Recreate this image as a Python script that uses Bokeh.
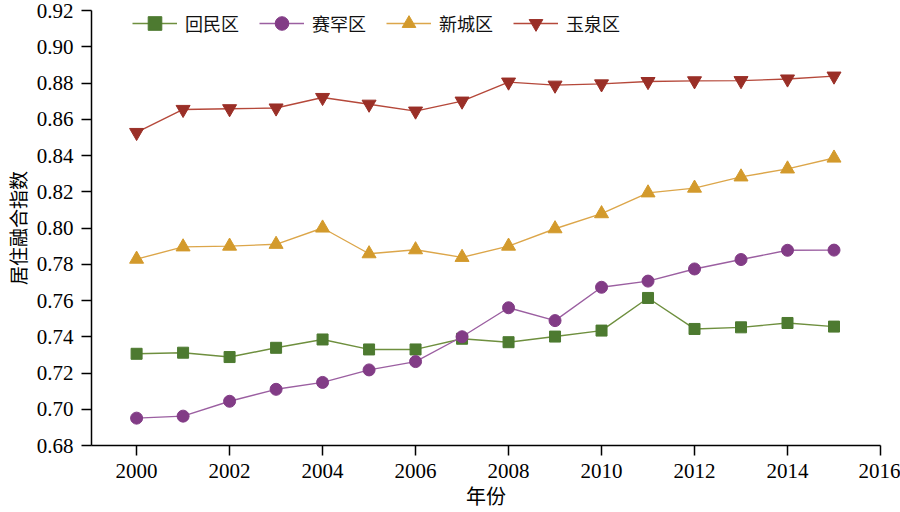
from bokeh.plotting import figure
from bokeh.models import Legend, LegendItem, Range1d, FixedTicker, PrintfTickFormatter, ColumnDataSource
from bokeh.embed import file_html
from bokeh.resources import INLINE

years = list(range(2000, 2016))
huimin = [0.7306, 0.7312, 0.7288, 0.7339, 0.7385, 0.7330, 0.7330, 0.7389,
          0.7370, 0.7401, 0.7434, 0.7614, 0.7443, 0.7452, 0.7476, 0.7456]
saihan = [0.6951, 0.6962, 0.7044, 0.7110, 0.7148, 0.7217, 0.7263, 0.7400,
          0.7560, 0.7489, 0.7673, 0.7707, 0.7774, 0.7826, 0.7877, 0.7878]
xincheng = [0.7828, 0.7896, 0.7900, 0.7910, 0.8000, 0.7858, 0.7880, 0.7838,
            0.7900, 0.7996, 0.8079, 0.8194, 0.8220, 0.8282, 0.8326, 0.8386]
yuquan = [0.8527, 0.8654, 0.8658, 0.8662, 0.8720, 0.8683, 0.8645, 0.8700,
          0.8805, 0.8788, 0.8795, 0.8808, 0.8812, 0.8813, 0.8822, 0.8838]

names = ["回民区", "赛罕区", "新城区", "玉泉区"]
series = [huimin, saihan, xincheng, yuquan]
markers = ["square", "circle", "triangle", "inverted_triangle"]
sizes = [11, 12, 14, 14]
mcolors = ["#4d7a30", "#823c86", "#d39a2c", "#9a2f27"]
lcolors = ["#6e8f3e", "#9b5fa1", "#dca64a", "#b5483a"]

y_ticks = [0.68, 0.70, 0.72, 0.74, 0.76, 0.78, 0.80, 0.82, 0.84, 0.86, 0.88, 0.90, 0.92]
x_ticks = [2000, 2002, 2004, 2006, 2008, 2010, 2012, 2014, 2016]
x_title = "年份"
y_title = "居住融合指数"

p = figure(width=900, height=512, output_backend="svg", toolbar_location=None,
           x_range=Range1d(1999.03, 2016), y_range=Range1d(0.68, 0.92),
           min_border_left=91, min_border_right=20, min_border_top=10, min_border_bottom=66)
p.outline_line_color = None
p.xgrid.visible = False
p.ygrid.visible = False
p.background_fill_color = "white"

items = []
for name, vals, mk, sz, mc, lc in zip(names, series, markers, sizes, mcolors, lcolors):
    src = ColumnDataSource(dict(x=years, y=vals))
    r1 = p.line("x", "y", source=src, line_color=lc, line_width=1.4)
    r2 = p.scatter("x", "y", source=src, marker=mk, size=sz, fill_color=mc,
                   line_color=mc, line_width=1)
    items.append(LegendItem(label=name, renderers=[r1, r2]))

legend = Legend(items=items, orientation="horizontal", location=(41, 405),
                glyph_width=45, glyph_height=34, label_standoff=8, spacing=20,
                padding=0, margin=0, border_line_color=None,
                background_fill_alpha=0, label_text_font="Noto Sans CJK SC",
                label_text_font_size="18px", label_text_color="#111111")
p.add_layout(legend, "center")

for ax in (p.xaxis[0], p.yaxis[0]):
    ax.axis_line_color = "black"
    ax.axis_line_width = 1.5
    ax.major_tick_line_color = "black"
    ax.major_tick_line_width = 1.5
    ax.major_tick_in = 0
    ax.major_tick_out = 10
    ax.minor_tick_line_color = None
    ax.major_label_text_font = "Liberation Serif"
    ax.major_label_text_font_size = "21px"
    ax.major_label_text_color = "black"
    ax.axis_label_text_font = "Noto Sans CJK SC"
    ax.axis_label_text_font_style = "normal"
    ax.axis_label_text_color = "black"

p.xaxis[0].axis_label_text_font_size = "20px"
p.yaxis[0].axis_label_text_font_size = "19px"
p.xaxis[0].ticker = FixedTicker(ticks=x_ticks)
p.yaxis[0].ticker = FixedTicker(ticks=y_ticks)
p.yaxis[0].formatter = PrintfTickFormatter(format="%.2f")
p.xaxis[0].axis_label = x_title
p.yaxis[0].axis_label = y_title
p.xaxis[0].major_label_standoff = 8
p.yaxis[0].major_label_standoff = 8
p.xaxis[0].axis_label_standoff = 0
p.yaxis[0].axis_label_standoff = 3

open("out.html", "w").write(file_html(p, INLINE))
